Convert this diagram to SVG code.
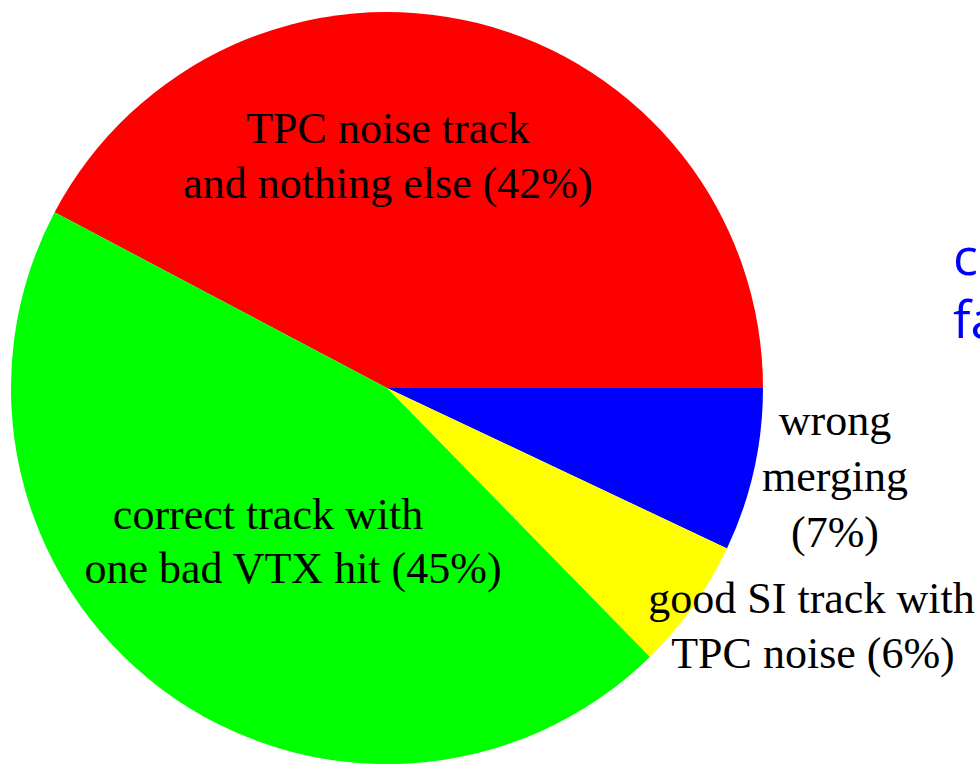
<svg xmlns="http://www.w3.org/2000/svg" width="980" height="764" viewBox="0 0 980 764">
  <style>
    .lbl { font-family: "Liberation Serif", "Times New Roman", serif; font-size: 44px; fill: #000; text-anchor: middle; }
    .side { font-family: "Open Sans", "DejaVu Sans", sans-serif; font-size: 52px; fill: #0000ff; }
  </style>
  <rect width="980" height="764" fill="#ffffff"/>
  <g id="slice-red">
    <path d="M387,388 L54.6,212.3 A376,376 0 0,1 763,388 Z" fill="#ff0000"/>
  </g>
  <g id="slice-blue">
    <path d="M387,388 L763,388 A376,376 0 0,1 727,548.5 Z" fill="#0000ff"/>
  </g>
  <g id="slice-yellow">
    <path d="M387,388 L727,548.5 A376,376 0 0,1 649.9,656.9 Z" fill="#ffff00"/>
  </g>
  <g id="slice-green">
    <path d="M387,388 L649.9,656.9 A376,376 0 0,1 54.6,212.3 Z" fill="#00ff00"/>
  </g>
  <g id="labels">
    <text class="lbl" x="388" y="143">TPC noise track</text>
    <text class="lbl" x="388" y="198">and nothing else (42%)</text>
    <text class="lbl" x="268" y="529">correct track with</text>
    <text class="lbl" x="293" y="583">one bad VTX hit (45%)</text>
    <text class="lbl" x="835" y="435">wrong</text>
    <text class="lbl" x="835" y="491">merging</text>
    <text class="lbl" x="835" y="547">(7%)</text>
    <text class="lbl" x="811.5" y="613">good SI track with</text>
    <text class="lbl" x="813" y="668">TPC noise (6%)</text>
  </g>
  <g id="side-text">
    <text class="side" x="953" y="275">c</text>
    <text class="side" x="953" y="338">fa</text>
  </g>
</svg>
